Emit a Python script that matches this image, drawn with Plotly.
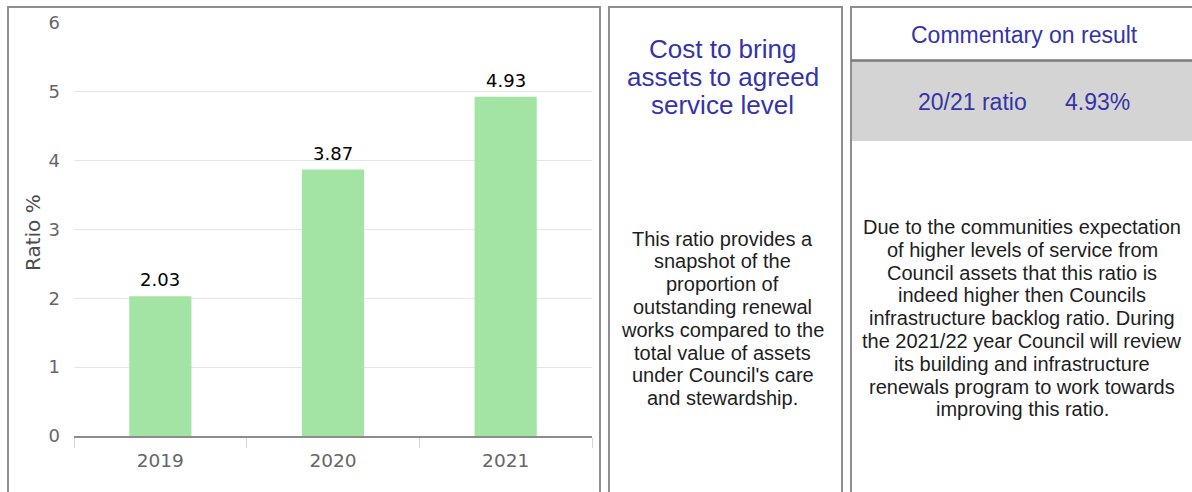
import plotly.graph_objects as go

# ---- data ----
years = ["2019", "2020", "2021"]
ratio_pct = [2.03, 3.87, 4.93]
y_ticks = [0, 1, 2, 3, 4, 5, 6]
y_title = "Ratio %"

indicator_title = ["Cost to bring", "assets to agreed", "service level"]
indicator_text = [
    "This ratio provides a",
    "snapshot of the",
    "proportion of",
    "outstanding renewal",
    "works compared to the",
    "total value of assets",
    "under Council's care",
    "and stewardship.",
]
commentary_header = "Commentary on result"
result_label = "20/21 ratio"
commentary_text = [
    "Due to the communities expectation",
    "of higher levels of service from",
    "Council assets that this ratio is",
    "indeed higher then Councils",
    "infrastructure backlog ratio. During",
    "the 2021/22 year Council will review",
    "its building and infrastructure",
    "renewals program to work towards",
    "improving this ratio.",
]

# ---- page geometry (pixels) ----
W, H = 1192, 492


def fx(p):
    return p / W


def fy(p):
    return 1 - p / H


BLUE = "#3434a8"
TEXT = "#1e1e1e"
BORDER = "#8f8f8f"
SANS = "Liberation Sans, Arial, sans-serif"
CHART_FONT = "DejaVu Sans, Verdana, sans-serif"

fig = go.Figure()

fig.add_trace(
    go.Bar(
        x=years,
        y=ratio_pct,
        marker=dict(color="#a3e3a3", line=dict(width=0)),
        hoverinfo="x+y",
    )
)

annotations = []

# value labels above the bars (category index positions)
for i, v in enumerate(ratio_pct):
    annotations.append(
        dict(
            x=i, y=v, xref="x", yref="y", text=f"{v:.2f}", showarrow=False,
            yanchor="bottom", yshift=4,
            font=dict(family=CHART_FONT, size=18, color="#000000"),
        )
    )

# rotated y-axis title
annotations.append(
    dict(
        x=fx(33), y=fy(233), xref="paper", yref="paper", text=y_title,
        showarrow=False, textangle=-90, xanchor="center", yanchor="middle",
        font=dict(family=CHART_FONT, size=20, color="#4d4d4d"),
    )
)

# middle panel: indicator name
mid_cx = 722.5
for i, line in enumerate(indicator_title):
    annotations.append(
        dict(
            x=fx(mid_cx), y=fy(48.5 + i * 28.5), xref="paper", yref="paper",
            text=line, showarrow=False, xanchor="center", yanchor="middle",
            font=dict(family=SANS, size=26, color=BLUE),
        )
    )

# middle panel: description
for i, line in enumerate(indicator_text):
    annotations.append(
        dict(
            x=fx(mid_cx), y=fy(238.5 + i * 22.8), xref="paper", yref="paper",
            text=line, showarrow=False, xanchor="center", yanchor="middle",
            font=dict(family=SANS, size=20, color=TEXT),
        )
    )

# right panel: header and result
annotations.append(
    dict(
        x=fx(1024.5), y=fy(35.5), xref="paper", yref="paper",
        text=commentary_header, showarrow=False, xanchor="center", yanchor="middle",
        font=dict(family=SANS, size=23, color=BLUE),
    )
)
annotations.append(
    dict(
        x=fx(972.5), y=fy(101.5), xref="paper", yref="paper",
        text=result_label, showarrow=False, xanchor="center", yanchor="middle",
        font=dict(family=SANS, size=23, color=BLUE),
    )
)
annotations.append(
    dict(
        x=fx(1097), y=fy(101.5), xref="paper", yref="paper",
        text=f"{ratio_pct[-1]:.2f}%", showarrow=False, xanchor="center", yanchor="middle",
        font=dict(family=SANS, size=23, color=BLUE),
    )
)

# right panel: commentary
for i, line in enumerate(commentary_text):
    annotations.append(
        dict(
            x=fx(1022), y=fy(227 + i * 22.8), xref="paper", yref="paper",
            text=line, showarrow=False, xanchor="center", yanchor="middle",
            font=dict(family=SANS, size=20, color=TEXT),
        )
    )

# panel frames and the shaded result band
shapes = [
    dict(type="rect", xref="paper", yref="paper", x0=fx(8), x1=fx(600), y0=fy(520), y1=fy(7),
         line=dict(color=BORDER, width=2), fillcolor="rgba(0,0,0,0)", layer="above"),
    dict(type="rect", xref="paper", yref="paper", x0=fx(609), x1=fx(842), y0=fy(520), y1=fy(7),
         line=dict(color=BORDER, width=2), fillcolor="rgba(0,0,0,0)", layer="above"),
    dict(type="rect", xref="paper", yref="paper", x0=fx(851), x1=fx(1220), y0=fy(61), y1=fy(141),
         line=dict(width=0), fillcolor="#d4d4d4", layer="below"),
    dict(type="rect", xref="paper", yref="paper", x0=fx(851), x1=fx(1220), y0=fy(520), y1=fy(7),
         line=dict(color=BORDER, width=2), fillcolor="rgba(0,0,0,0)", layer="above"),
    dict(type="line", xref="paper", yref="paper", x0=fx(851), x1=fx(1220), y0=fy(60.5), y1=fy(60.5),
         line=dict(color="#7a7a7a", width=2.5), layer="above"),
]

fig.update_layout(
    width=W,
    height=H,
    margin=dict(l=0, r=0, t=0, b=0, autoexpand=False),
    paper_bgcolor="white",
    plot_bgcolor="white",
    showlegend=False,
    bargap=0.64,
    font=dict(family=CHART_FONT, color="#666666"),
    annotations=annotations,
    shapes=shapes,
    xaxis=dict(
        domain=[fx(74), fx(592)],
        type="category",
        range=[-0.5, len(years) - 0.5],
        automargin=False,
        showgrid=False,
        showline=True,
        linecolor="#8c8c8c",
        linewidth=2,
        ticks="outside",
        tickson="boundaries",
        ticklen=10,
        tickwidth=1,
        tickcolor="#ccd6eb",
        tickangle=0,
        tickfont=dict(family=CHART_FONT, size=18.5, color="#666666"),
        ticklabelstandoff=7,
        fixedrange=True,
    ),
    yaxis=dict(
        domain=[fy(436), fy(23)],
        range=[0, 6],
        automargin=False,
        tickvals=y_ticks,
        showgrid=True,
        gridcolor="#e6e6e6",
        gridwidth=1,
        zeroline=False,
        showline=False,
        ticks="",
        tickfont=dict(family=CHART_FONT, size=18, color="#666666"),
        ticklabelstandoff=13,
        fixedrange=True,
    ),
)

fig.write_html("out.html")
